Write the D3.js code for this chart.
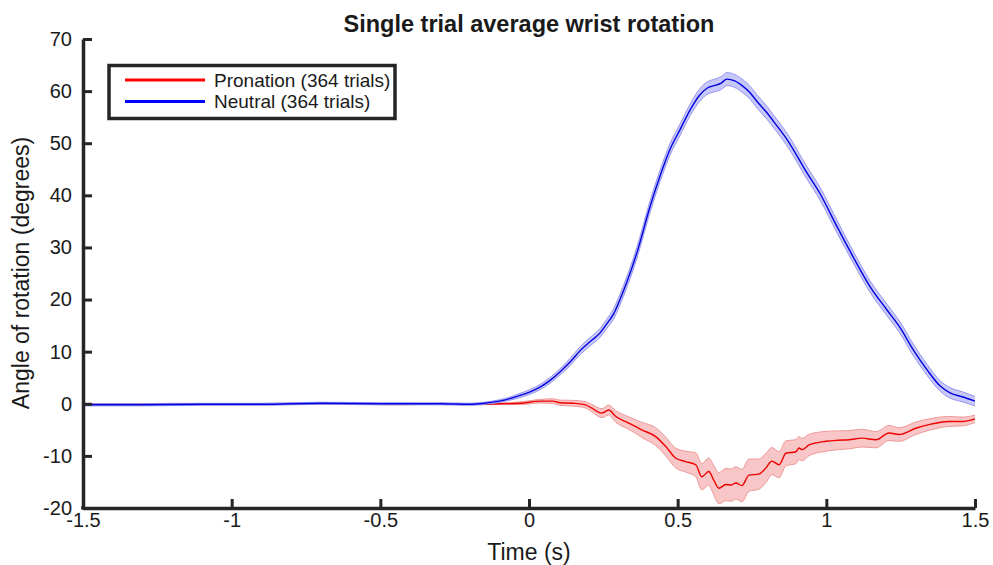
<!DOCTYPE html>
<html>
<head>
<meta charset="utf-8">
<script src="https://cdn.jsdelivr.net/npm/d3@7"></script>
<style>
  html, body { margin: 0; padding: 0; background: #fff; }
  svg { display: block; }
  text { font-family: "Liberation Sans", Arial, Helvetica, sans-serif; fill: #1a1a1a; }
</style>
</head>
<body>
<svg id="chart" width="993" height="565"></svg>
<script>
// ---- data ----
const titleText = "Single trial average wrist rotation";
const xLabel = "Time (s)";
const yLabel = "Angle of rotation (degrees)";
const xTicks = [-1.5, -1, -0.5, 0, 0.5, 1, 1.5];
const yTicks = [-20, -10, 0, 10, 20, 30, 40, 50, 60, 70];
const seriesNames = ["Pronation (364 trials)", "Neutral (364 trials)"];

const blueT = [-1.5,-1.3,-1.1,-0.9,-0.7,-0.5,-0.3,-0.2,-0.15,-0.1,-0.064,-0.03,0.004,0.037,0.071,0.104,0.138,0.172,0.205,0.239,0.261,0.284,0.306,0.33,0.363,0.407,0.448,0.474,0.508,0.542,0.575,0.6,0.619,0.645,0.666,0.69,0.72,0.745,0.767,0.801,0.821,0.868,0.935,0.979,1.036,1.09,1.147,1.204,1.248,1.292,1.339,1.383,1.416,1.46,1.5];
const blueMean = [-0.2,-0.2,-0.1,-0.1,0.1,0.0,0.0,-0.1,0.1,0.5,1.0,1.6,2.3,3.2,4.5,6.1,8.0,10.2,11.9,13.6,15.3,17.2,20.0,23.5,29.0,37.8,44.9,48.8,52.6,56.4,59.3,60.6,61.0,61.5,62.3,62.0,60.9,59.6,58.0,55.8,54.3,50.7,44.3,40.3,34.0,28.2,22.5,18.0,14.6,10.4,6.5,3.4,2.1,1.3,0.5];
const blueSem = [0.2,0.2,0.2,0.2,0.2,0.2,0.2,0.2,0.2,0.25,0.3,0.4,0.45,0.5,0.55,0.6,0.7,0.75,0.8,0.85,0.9,1.0,1.0,1.05,1.05,1.1,1.1,1.1,1.1,1.1,1.2,1.2,1.2,1.25,1.25,1.25,1.25,1.25,1.25,1.25,1.2,1.2,1.2,1.2,1.2,1.1,1.1,1.1,1.1,1.1,1.05,1.0,1.0,0.95,0.9];

const redT = [-1.5,-1.35,-1.2,-1.05,-0.9,-0.75,-0.6,-0.45,-0.3,-0.2,-0.1,-0.03,0.04,0.08,0.104,0.15,0.19,0.21,0.245,0.268,0.291,0.335,0.359,0.379,0.426,0.46,0.493,0.527,0.561,0.581,0.605,0.62,0.639,0.662,0.68,0.696,0.716,0.74,0.773,0.797,0.817,0.841,0.864,0.898,0.908,0.918,0.942,0.999,1.04,1.076,1.12,1.167,1.211,1.244,1.301,1.345,1.412,1.456,1.5];
const redMean = [-0.1,-0.1,0.0,-0.1,-0.1,0.0,0.0,-0.1,0.0,-0.1,0.0,0.1,0.5,0.5,0.2,0.1,-0.2,-0.8,-1.8,-1.2,-2.4,-3.7,-4.4,-5.0,-6.3,-8.2,-10.4,-11.1,-11.7,-14.0,-13.0,-14.5,-16.2,-15.5,-15.6,-15.2,-15.7,-13.7,-13.5,-12.3,-11.0,-11.7,-9.5,-9.2,-8.5,-8.8,-7.9,-7.2,-7.0,-6.9,-6.6,-6.9,-5.6,-5.9,-4.7,-4.0,-3.4,-3.4,-2.9];
const redSem = [0.1,0.1,0.1,0.1,0.1,0.1,0.1,0.1,0.1,0.1,0.15,0.25,0.35,0.45,0.5,0.55,0.6,0.7,0.85,0.95,1.1,1.2,1.3,1.45,1.7,1.8,1.9,2.0,2.3,2.5,2.6,2.8,3.0,3.1,3.1,3.1,3.1,3.1,2.9,2.8,2.6,2.5,2.4,2.3,2.2,2.15,2.05,1.9,1.8,1.75,1.7,1.55,1.45,1.3,1.2,1.1,0.95,0.85,0.7];

// ---- build ----
const svg = d3.select("#chart");
const ink = "#262626";
const x = d3.scaleLinear().domain([-1.5, 1.5]).range([83, 975]);
const y = d3.scaleLinear().domain([-20, 70]).range([508, 39]);

function rows(t, m, s) { return t.map((tt, i) => ({ t: tt, m: m[i], s: s[i] })); }
const red = rows(redT, redMean, redSem);
const blue = rows(blueT, blueMean, blueSem);

const area = d3.area().x(d => x(d.t)).y0(d => y(d.m - d.s)).y1(d => y(d.m + d.s)).curve(d3.curveMonotoneX);
const upper = d3.line().x(d => x(d.t)).y(d => y(d.m + d.s)).curve(d3.curveMonotoneX);
const lower = d3.line().x(d => x(d.t)).y(d => y(d.m - d.s)).curve(d3.curveMonotoneX);
const mean = d3.line().x(d => x(d.t)).y(d => y(d.m)).curve(d3.curveMonotoneX);

function drawSeries(data, fill, edge, col) {
  const g = svg.append("g");
  g.append("path").attr("d", area(data)).attr("fill", fill).attr("stroke", "none");
  g.append("path").attr("d", upper(data)).attr("fill", "none").attr("stroke", edge).attr("stroke-width", 1);
  g.append("path").attr("d", lower(data)).attr("fill", "none").attr("stroke", edge).attr("stroke-width", 1);
  g.append("path").attr("d", mean(data)).attr("fill", "none").attr("stroke", col).attr("stroke-width", 1.4);
}
drawSeries(red, "#f8c6c6", "#ee9898", "#ee0000");
drawSeries(blue, "#c8c8f8", "#9494f0", "#0000e0");

// axes
const fmt = d => String(d);
const xAxis = svg.append("g").attr("transform", "translate(0,508)")
  .call(d3.axisBottom(x).tickValues(xTicks).tickFormat(fmt).tickSizeInner(-9).tickSizeOuter(0).tickPadding(5));
const yAxis = svg.append("g").attr("transform", "translate(83,0)")
  .call(d3.axisLeft(y).tickValues(yTicks).tickFormat(fmt).tickSizeInner(-9).tickSizeOuter(0).tickPadding(11));
[xAxis, yAxis].forEach(a => {
  a.select(".domain").attr("stroke", ink).attr("stroke-width", 3.5);
  a.selectAll(".tick line").attr("stroke", ink).attr("stroke-width", 3);
  a.selectAll(".tick text").attr("font-size", 20).attr("fill", "#1a1a1a")
    .style("font-family", '"Liberation Sans", Arial, Helvetica, sans-serif');
});
// square the corner
svg.append("rect").attr("x", 81.25).attr("y", 506.25).attr("width", 3.5).attr("height", 3.5).attr("fill", ink);

// title and labels
svg.append("text").attr("x", 529).attr("y", 32).attr("text-anchor", "middle")
  .attr("font-size", 23.5).attr("font-weight", "bold").text(titleText);
svg.append("text").attr("x", 529).attr("y", 560).attr("text-anchor", "middle")
  .attr("font-size", 23).text(xLabel);
svg.append("text").attr("transform", "translate(29,273) rotate(-90)").attr("text-anchor", "middle")
  .attr("font-size", 23).text(yLabel);

// legend
const lg = svg.append("g");
lg.append("rect").attr("x", 109).attr("y", 65.5).attr("width", 286).attr("height", 53)
  .attr("fill", "#fff").attr("stroke", ink).attr("stroke-width", 3.5);
const legCols = ["#ff0000", "#0000ff"];
seriesNames.forEach((name, i) => {
  const yy = 80 + i * 21.5;
  lg.append("line").attr("x1", 125).attr("x2", 205).attr("y1", yy).attr("y2", yy)
    .attr("stroke", legCols[i]).attr("stroke-width", 3);
  lg.append("text").attr("x", 214).attr("y", yy + 6.5).attr("font-size", 19).text(name);
});
</script>
</body>
</html>
